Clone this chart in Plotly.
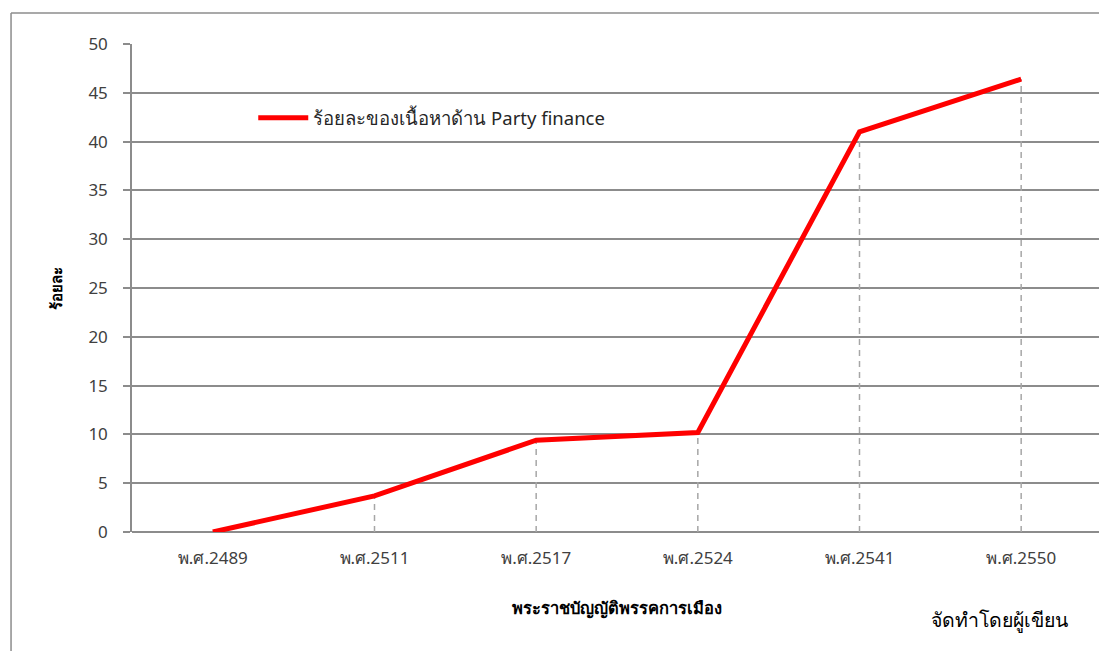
import plotly.graph_objects as go

# ข้อมูล
years = ["พ.ศ.2489", "พ.ศ.2511", "พ.ศ.2517", "พ.ศ.2524", "พ.ศ.2541", "พ.ศ.2550"]
percent = [0, 3.7, 9.4, 10.2, 41.0, 46.4]
series_name = "ร้อยละของเนื้อหาด้าน Party finance"

FONT = "Tahoma, 'Noto Sans', 'DejaVu Sans', sans-serif"
GRID = "#8c8c8c"

# ---- เส้นประจากจุดลงแกน x ----
drop_x, drop_y = [], []
for c, v in zip(years, percent):
    drop_x += [c, c, None]
    drop_y += [0, v, None]

fig = go.Figure()

fig.add_trace(
    go.Scatter(
        x=drop_x,
        y=drop_y,
        mode="lines",
        line=dict(color="#a6a6a6", width=1.5, dash="6px,5px"),
        hoverinfo="skip",
        showlegend=False,
    )
)

fig.add_trace(
    go.Scatter(
        x=years,
        y=percent,
        mode="lines",
        line=dict(color="#ff0000", width=5),
        name=series_name,
    )
)

# หน้า html มีขอบ body 8px จึงลดขนาดลง
fig.update_layout(
    width=1099,
    height=643,
    margin=dict(l=124, r=5, t=36, b=119),
    paper_bgcolor="white",
    plot_bgcolor="white",
    font=dict(family=FONT, size=17, color="#404040"),
    showlegend=True,
    legend=dict(
        x=0.125,
        y=0.848,
        xanchor="left",
        yanchor="middle",
        bgcolor="rgba(0,0,0,0)",
        font=dict(size=18.5, color="#262626"),
        itemwidth=50,
    ),
    xaxis=dict(
        type="category",
        range=[-0.5, 5.5],
        showgrid=False,
        showline=False,
        zeroline=False,
        ticks="",
        tickfont=dict(size=17, color="#404040"),
        ticklabelstandoff=14,
        title=dict(
            text="<b>พระราชบัญญัติพรรคการเมือง</b>",
            font=dict(size=16.5, color="#000000"),
            standoff=34,
        ),
    ),
    yaxis=dict(
        range=[0, 50],
        dtick=5,
        showgrid=True,
        gridcolor=GRID,
        gridwidth=1.5,
        zeroline=True,
        zerolinecolor=GRID,
        zerolinewidth=1.5,
        showline=True,
        linecolor=GRID,
        linewidth=1.5,
        ticks="outside",
        ticklen=7,
        tickcolor=GRID,
        tickwidth=1.5,
        ticklabelstandoff=12,
        tickfont=dict(size=17, color="#404040"),
        title=dict(
            text="<b>ร้อยละ</b>",
            font=dict(size=15, color="#000000"),
            standoff=22,
        ),
    ),
    shapes=[
        dict(type="line", xref="paper", yref="paper",
             x0=-0.1247, x1=-0.1247, y0=-0.3, y1=1.0635,
             line=dict(color=GRID, width=1.5)),
        dict(type="line", xref="paper", yref="paper",
             x0=-0.1247, x1=1.01, y0=1.0635, y1=1.0635,
             line=dict(color=GRID, width=1.5)),
    ],
    annotations=[
        dict(
            text="จัดทำโดยผู้เขียน",
            xref="paper", yref="paper",
            x=0.894, y=-0.18,
            xanchor="center", yanchor="middle",
            showarrow=False,
            font=dict(size=19.5, color="#000000"),
        )
    ],
)

fig.write_html("out.html")
